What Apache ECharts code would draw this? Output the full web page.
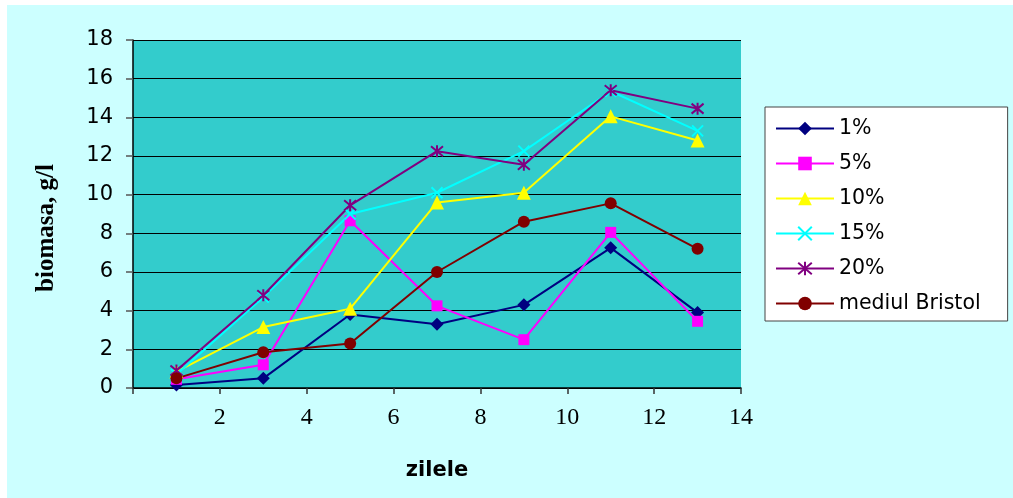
<!DOCTYPE html>
<html>
<head>
<meta charset="utf-8">
<script src="https://cdn.jsdelivr.net/npm/echarts@6/dist/echarts.min.js"></script>
<style>
  html, body { margin: 0; padding: 0; background: #ffffff; width: 1013px; height: 498px; overflow: hidden; }
  #chart { position: absolute; left: 7px; top: 5px; width: 1006px; height: 493px; background: #CCFFFF; }
</style>
</head>
<body>
<div id="chart"></div>
<script>
// Data
const days = [1, 3, 5, 7, 9, 11, 13];
const seriesNames = ['1%', '5%', '10%', '15%', '20%', 'mediul Bristol'];
const v1 = [0.15, 0.5, 3.8, 3.3, 4.3, 7.25, 3.9];
const v5 = [0.45, 1.2, 8.65, 4.25, 2.5, 8.05, 3.45];
const v10 = [0.85, 3.15, 4.1, 9.6, 10.1, 14.05, 12.8];
const v15 = [0.7, 4.7, 9.0, 10.1, 12.25, 15.35, 13.3];
const v20 = [0.9, 4.8, 9.45, 12.25, 11.55, 15.4, 14.45];
const vBristol = [0.5, 1.85, 2.3, 6.0, 8.6, 9.55, 7.2];
const xAxisTitle = 'zilele';
const yAxisTitle = 'biomasa, g/l';

const allValues = [v1, v5, v10, v15, v20, vBristol];
const colors = ['#000080', '#FF00FF', '#FFFF00', '#00FFFF', '#800080', '#800000'];
const symbols = [
  'diamond',
  'rect',
  'triangle',
  'path://M0,0L10,10M10,0L0,10',
  'path://M0,0L10,10M10,0L0,10M5,-1L5,11',
  'circle'
];
const symbolSizes = [13, 11, 14, 11, 12, 12];

const chart = echarts.init(document.getElementById('chart'), null, { renderer: 'canvas' });

const series = allValues.map((vals, i) => {
  const isStroke = (i === 3 || i === 4);
  return {
    name: seriesNames[i],
    type: 'line',
    data: days.map((d, j) => [d, vals[j]]),
    symbol: symbols[i],
    symbolSize: symbolSizes[i],
    showAllSymbol: true,
    lineStyle: { color: colors[i], width: 2 },
    itemStyle: isStroke
      ? { color: colors[i], borderColor: colors[i], borderWidth: 2 }
      : { color: colors[i], borderColor: colors[i], borderWidth: 0 },
    emphasis: { disabled: true },
    animation: false
  };
});

const option = {
  animation: false,
  grid: {
    left: 126, right: 272, top: 35, bottom: 110,
    show: true, backgroundColor: '#33CCCC', borderWidth: 0
  },
  xAxis: {
    type: 'value', min: 0, max: 14, interval: 2,
    name: xAxisTitle, nameLocation: 'middle', nameGap: 72,
    nameTextStyle: { fontFamily: 'DejaVu Sans', fontWeight: 'bold', fontSize: 21, color: '#000' },
    axisLine: { show: true, lineStyle: { color: '#000', width: 1.5 } },
    axisTick: { show: true, inside: false, length: 6, lineStyle: { color: '#333', width: 1.5 } },
    axisLabel: {
      margin: 18, fontFamily: 'Liberation Serif', fontSize: 24, color: '#000',
      formatter: v => (v === 0 ? '' : String(v))
    },
    splitLine: { show: false }
  },
  yAxis: {
    type: 'value', min: 0, max: 18, interval: 2,
    axisLine: { show: true, lineStyle: { color: '#000', width: 1.5 } },
    axisTick: { show: true, inside: false, length: 7, lineStyle: { color: '#555', width: 1.5 } },
    axisLabel: { margin: 20, fontFamily: 'DejaVu Sans', fontSize: 21, color: '#000' },
    splitLine: { show: true, lineStyle: { color: '#000', width: 1 } }
  },
  legend: {
    orient: 'vertical',
    left: 758, top: 102,
    data: seriesNames,
    itemWidth: 58, itemHeight: 17, itemGap: 14,
    padding: [11, 27, 7, 10],
    backgroundColor: '#ffffff',
    borderColor: '#444', borderWidth: 1,
    textStyle: { fontFamily: 'DejaVu Sans', fontSize: 20.5, color: '#000', lineHeight: 20 },
    selectedMode: false
  },
  graphic: [{
    type: 'text',
    x: 40, y: 223,
    rotation: Math.PI / 2,
    style: {
      text: yAxisTitle,
      fontFamily: 'Liberation Serif', fontWeight: 'bold', fontSize: 25,
      fill: '#000', align: 'center', verticalAlign: 'middle'
    }
  }],
  series: series
};

chart.setOption(option);
</script>
</body>
</html>
